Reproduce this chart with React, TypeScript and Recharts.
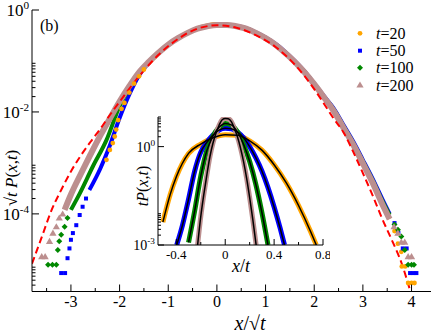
import React from 'react';
import { ComposedChart, Line, Scatter, XAxis, YAxis } from 'recharts';

const FONT = 'Liberation Serif, Times New Roman, serif';

// ---- main panel: sqrt(t) P(x,t) against x/sqrt(t) ----
const t20Line = [
  { x: -1.4, y: 9.0e-2 }, { x: -1.2, y: 0.14 }, { x: -1.0, y: 0.205 }, { x: -0.8, y: 0.28 },
  { x: -0.6, y: 0.36 }, { x: -0.4, y: 0.44 }, { x: -0.2, y: 0.5 }, { x: 0, y: 0.53 },
  { x: 0.2, y: 0.52 }, { x: 0.4, y: 0.48 }, { x: 0.6, y: 0.43 }, { x: 0.8, y: 0.355 },
  { x: 1.0, y: 0.28 }, { x: 1.2, y: 0.21 }, { x: 1.4, y: 0.145 }, { x: 1.6, y: 0.096 },
  { x: 1.8, y: 0.06 }, { x: 2.0, y: 0.035 }, { x: 2.2, y: 0.0195 }, { x: 2.4, y: 0.0105 },
  { x: 2.6, y: 4.9e-3 }, { x: 2.8, y: 2.3e-3 }, { x: 3.0, y: 9.8e-4 }, { x: 3.2, y: 4.1e-4 },
  { x: 3.4, y: 1.6e-4 }, { x: 3.55, y: 8.0e-5 },
];
const t20Pts = [
  { x: -2.27, y: 1.15e-3 }, { x: -2.2, y: 1.8e-3 }, { x: -2.14, y: 2.45e-3 }, { x: -2.1, y: 3.3e-3 },
  { x: -2.07, y: 4.5e-3 }, { x: -2.03, y: 6.9e-3 }, { x: -1.96, y: 1.15e-2 }, { x: -1.9, y: 1.5e-2 },
  { x: -1.8, y: 2.4e-2 }, { x: -1.7, y: 3.6e-2 }, { x: -1.6, y: 5.0e-2 }, { x: -1.5, y: 6.8e-2 },
  { x: 3.65, y: 4.6e-5 }, { x: 3.72, y: 2.6e-5 }, { x: 3.79, y: 1.8e-5 }, { x: 3.8, y: 9.3e-6 },
  { x: 3.87, y: 9.3e-6 }, { x: 3.93, y: 4.4e-6 }, { x: 4.0, y: 4.4e-6 }, { x: 4.06, y: 4.4e-6 },
];

const t50Line = [
  { x: -2.62, y: 2.95e-4 }, { x: -2.4, y: 7.6e-4 }, { x: -2.2, y: 2.2e-3 }, { x: -2.0, y: 7.6e-3 },
  { x: -1.8, y: 2.2e-2 }, { x: -1.6, y: 5.2e-2 }, { x: -1.4, y: 9.2e-2 }, { x: -1.2, y: 0.142 },
  { x: -1.0, y: 0.208 }, { x: -0.8, y: 0.28 }, { x: -0.6, y: 0.355 }, { x: -0.4, y: 0.43 },
  { x: -0.2, y: 0.48 }, { x: 0, y: 0.51 }, { x: 0.2, y: 0.51 }, { x: 0.4, y: 0.485 },
  { x: 0.6, y: 0.44 }, { x: 0.8, y: 0.365 }, { x: 1.0, y: 0.29 }, { x: 1.2, y: 0.218 },
  { x: 1.4, y: 0.152 }, { x: 1.6, y: 0.1 }, { x: 1.8, y: 0.063 }, { x: 2.0, y: 0.036 },
  { x: 2.2, y: 0.0205 }, { x: 2.4, y: 0.0118 }, { x: 2.6, y: 5.6e-3 }, { x: 2.8, y: 2.65e-3 },
  { x: 3.0, y: 1.15e-3 }, { x: 3.2, y: 4.9e-4 }, { x: 3.4, y: 1.95e-4 }, { x: 3.55, y: 1.0e-4 },
];
const t50Pts = [
  { x: -3.2, y: 6.9e-6 }, { x: -3.12, y: 6.9e-6 }, { x: -3.07, y: 1.35e-5 }, { x: -3.03, y: 2.1e-5 },
  { x: -3.0, y: 3.1e-5 }, { x: -2.96, y: 4.2e-5 }, { x: -2.89, y: 6.0e-5 }, { x: -2.82, y: 9.5e-5 },
  { x: -2.76, y: 1.38e-4 }, { x: -2.69, y: 2.0e-4 },
  { x: 3.65, y: 6.6e-5 }, { x: 3.73, y: 4.2e-5 }, { x: 3.82, y: 2.1e-5 }, { x: 3.9, y: 2.1e-5 },
  { x: 3.97, y: 6.9e-6 }, { x: 4.04, y: 6.9e-6 }, { x: 4.1, y: 6.9e-6 },
];

const t100Line = [
  { x: -3.0, y: 1.2e-4 }, { x: -2.82, y: 2.5e-4 }, { x: -2.55, y: 8.5e-4 }, { x: -2.27, y: 2.8e-3 },
  { x: -2.0, y: 1.3e-2 }, { x: -1.8, y: 3.0e-2 }, { x: -1.6, y: 5.8e-2 }, { x: -1.4, y: 9.5e-2 },
  { x: -1.2, y: 0.145 }, { x: -1.0, y: 0.21 }, { x: -0.8, y: 0.28 }, { x: -0.6, y: 0.355 },
  { x: -0.4, y: 0.43 }, { x: -0.2, y: 0.48 }, { x: 0, y: 0.505 }, { x: 0.2, y: 0.505 },
  { x: 0.4, y: 0.48 }, { x: 0.6, y: 0.435 }, { x: 0.8, y: 0.36 }, { x: 1.0, y: 0.285 },
  { x: 1.2, y: 0.214 }, { x: 1.4, y: 0.148 }, { x: 1.6, y: 0.098 }, { x: 1.8, y: 0.062 },
  { x: 2.0, y: 0.0355 }, { x: 2.2, y: 0.02 }, { x: 2.4, y: 0.0112 }, { x: 2.6, y: 5.3e-3 },
  { x: 2.8, y: 2.5e-3 }, { x: 3.0, y: 1.08e-3 }, { x: 3.2, y: 4.6e-4 }, { x: 3.4, y: 1.8e-4 },
  { x: 3.55, y: 9.5e-5 },
];
const t100Pts = [
  { x: -3.47, y: 1.0e-5 }, { x: -3.38, y: 1.0e-5 }, { x: -3.3, y: 1.0e-5 }, { x: -3.27, y: 1.95e-5 },
  { x: -3.24, y: 2.9e-5 }, { x: -3.2, y: 3.9e-5 }, { x: -3.13, y: 5.6e-5 }, { x: -3.07, y: 8.3e-5 },
  { x: 3.65, y: 6.2e-5 }, { x: 3.72, y: 4.9e-5 }, { x: 3.79, y: 3.6e-5 }, { x: 3.86, y: 1.95e-5 },
  { x: 3.93, y: 1.0e-5 }, { x: 4.0, y: 1.0e-5 }, { x: 4.05, y: 1.0e-5 },
];

const t200Line = [
  { x: -3.13, y: 1.2e-4 }, { x: -3.0, y: 2.4e-4 }, { x: -2.8, y: 6.0e-4 }, { x: -2.6, y: 1.45e-3 },
  { x: -2.4, y: 3.4e-3 }, { x: -2.2, y: 7.4e-3 }, { x: -2.0, y: 1.6e-2 }, { x: -1.8, y: 3.2e-2 },
  { x: -1.6, y: 6.0e-2 }, { x: -1.4, y: 9.6e-2 }, { x: -1.2, y: 0.145 }, { x: -1.0, y: 0.21 },
  { x: -0.8, y: 0.28 }, { x: -0.6, y: 0.355 }, { x: -0.4, y: 0.43 }, { x: -0.2, y: 0.48 },
  { x: 0, y: 0.51 }, { x: 0.2, y: 0.51 }, { x: 0.4, y: 0.48 }, { x: 0.6, y: 0.43 },
  { x: 0.8, y: 0.355 }, { x: 1.0, y: 0.28 }, { x: 1.2, y: 0.21 }, { x: 1.4, y: 0.145 },
  { x: 1.6, y: 0.096 }, { x: 1.8, y: 0.06 }, { x: 2.0, y: 0.035 }, { x: 2.2, y: 0.0195 },
  { x: 2.4, y: 0.0105 }, { x: 2.6, y: 4.9e-3 }, { x: 2.8, y: 2.3e-3 }, { x: 3.0, y: 9.8e-4 },
  { x: 3.2, y: 4.1e-4 }, { x: 3.4, y: 1.55e-4 }, { x: 3.55, y: 7.9e-5 },
];
const t200Pts = [
  { x: -3.6, y: 1.45e-5 }, { x: -3.53, y: 1.45e-5 }, { x: -3.44, y: 2.9e-5 }, { x: -3.37, y: 4.2e-5 },
  { x: -3.3, y: 5.6e-5 }, { x: -3.24, y: 8.3e-5 }, { x: -3.17, y: 1.0e-4 },
  { x: 3.64, y: 5.6e-5 }, { x: 3.72, y: 4.2e-5 }, { x: 3.79, y: 2.8e-5 }, { x: 3.86, y: 2.8e-5 },
  { x: 3.93, y: 1.45e-5 }, { x: 4.0, y: 1.45e-5 },
];

// dashed red curve
const gaussCurve = [
  { x: -3.8, y: 1.05e-5 }, { x: -3.6, y: 3.5e-5 }, { x: -3.4, y: 1.17e-4 }, { x: -3.2, y: 2.95e-4 },
  { x: -3.0, y: 6.8e-4 }, { x: -2.8, y: 1.38e-3 }, { x: -2.6, y: 2.57e-3 }, { x: -2.4, y: 4.6e-3 },
  { x: -2.2, y: 8.7e-3 }, { x: -2.0, y: 1.58e-2 }, { x: -1.6, y: 5.0e-2 }, { x: -1.2, y: 0.132 },
  { x: -0.8, y: 0.27 }, { x: -0.4, y: 0.43 }, { x: 0, y: 0.5 }, { x: 0.4, y: 0.45 },
  { x: 0.8, y: 0.32 }, { x: 1.2, y: 0.19 }, { x: 1.6, y: 0.085 }, { x: 2.0, y: 0.028 },
  { x: 2.2, y: 0.0145 }, { x: 2.4, y: 7.4e-3 }, { x: 2.6, y: 4.0e-3 }, { x: 2.8, y: 1.66e-3 },
  { x: 3.0, y: 6.3e-4 }, { x: 3.2, y: 2.3e-4 }, { x: 3.4, y: 7.9e-5 }, { x: 3.6, y: 3.0e-5 },
  { x: 3.8, y: 1.05e-5 }, { x: 3.96, y: 3.4e-6 },
];

// ---- inset: t P(x,t) against x/t ----
const inset20 = [
  { x: -0.51, y: 5.0e-3 }, { x: -0.45, y: 0.035 }, { x: -0.4, y: 0.12 }, { x: -0.3, y: 0.62 },
  { x: -0.2, y: 1.2 }, { x: -0.1, y: 1.86 }, { x: 0, y: 2.3 }, { x: 0.1, y: 2.24 },
  { x: 0.2, y: 1.5 }, { x: 0.3, y: 0.78 }, { x: 0.4, y: 0.28 }, { x: 0.5, y: 0.078 },
  { x: 0.6, y: 0.016 }, { x: 0.7, y: 2.5e-3 }, { x: 0.745, y: 1.0e-3 },
];
const inset50 = [
  { x: -0.397, y: 1.0e-3 }, { x: -0.35, y: 4.0e-3 }, { x: -0.3, y: 0.025 }, { x: -0.25, y: 0.18 },
  { x: -0.2, y: 0.68 }, { x: -0.15, y: 1.35 }, { x: -0.1, y: 2.24 }, { x: -0.05, y: 3.2 },
  { x: 0, y: 3.6 }, { x: 0.05, y: 3.5 }, { x: 0.1, y: 2.8 }, { x: 0.15, y: 1.86 },
  { x: 0.2, y: 1.0 }, { x: 0.25, y: 0.46 }, { x: 0.3, y: 0.18 }, { x: 0.35, y: 0.056 },
  { x: 0.4, y: 0.0145 }, { x: 0.45, y: 3.2e-3 }, { x: 0.485, y: 1.0e-3 },
];
const inset100 = [
  { x: -0.3, y: 1.2e-3 }, { x: -0.25, y: 0.011 }, { x: -0.2, y: 0.126 }, { x: -0.15, y: 0.76 },
  { x: -0.1, y: 2.1 }, { x: -0.05, y: 3.9 }, { x: 0, y: 5.1 }, { x: 0.05, y: 4.6 },
  { x: 0.1, y: 2.8 }, { x: 0.15, y: 1.17 }, { x: 0.2, y: 0.35 }, { x: 0.25, y: 0.072 },
  { x: 0.3, y: 9.8e-3 }, { x: 0.35, y: 1.0e-3 },
];
const inset200 = [
  { x: -0.226, y: 1.0e-3 }, { x: -0.2, y: 7.4e-3 }, { x: -0.175, y: 0.035 }, { x: -0.15, y: 0.14 },
  { x: -0.125, y: 0.5 }, { x: -0.1, y: 1.29 }, { x: -0.075, y: 2.6 }, { x: -0.05, y: 4.5 },
  { x: -0.025, y: 6.6 }, { x: 0, y: 7.2 }, { x: 0.025, y: 7.1 }, { x: 0.05, y: 5.8 },
  { x: 0.075, y: 3.6 }, { x: 0.1, y: 2.0 }, { x: 0.125, y: 0.91 }, { x: 0.15, y: 0.35 },
  { x: 0.175, y: 0.11 }, { x: 0.2, y: 0.028 }, { x: 0.225, y: 6.3e-3 }, { x: 0.253, y: 1.0e-3 },
];

const mainXTicks = [-3.5, -3, -2.5, -2, -1.5, -1, -0.5, 0, 0.5, 1, 1.5, 2, 2.5, 3, 3.5, 4];
const mainYTicks = [
  3e-6, 4e-6, 5e-6, 6e-6, 7e-6, 8e-6, 9e-6,
  1e-4, 2e-4, 3e-4, 4e-4, 5e-4, 6e-4, 7e-4, 8e-4, 9e-4,
  1e-2, 2e-2, 3e-2, 4e-2, 5e-2, 6e-2, 7e-2, 8e-2, 9e-2, 1,
];
const insetXTicks = [-0.4, -0.2, 0, 0.2, 0.4, 0.6, 0.8];
const insetYTicks = [
  1e-3, 2e-3, 3e-3, 4e-3, 5e-3, 6e-3, 7e-3, 8e-3, 9e-3, 1, 2, 3, 4, 5, 6, 7, 8,
];

const COLORS = { t20: '#FFA500', t50: '#0000FF', t100: '#008800', t200: '#BC8F8F' };

const isDecade = (v: number) => {
  const l = Math.log10(v);
  return Math.abs(l - Math.round(l)) < 1e-6;
};
const isMultiple = (step: number) => (v: number) => Math.abs(v / step - Math.round(v / step)) < 1e-6;

function marker(kind: string, cx: number, cy: number, key?: any) {
  if (kind === 'circle') return <circle key={key} cx={cx} cy={cy} r={2.4} fill={COLORS.t20} />;
  if (kind === 'square') return <rect key={key} x={cx - 2} y={cy - 2} width={4} height={4} fill={COLORS.t50} />;
  if (kind === 'diamond')
    return <polygon key={key} points={`${cx},${cy - 3} ${cx + 3},${cy} ${cx},${cy + 3} ${cx - 3},${cy}`} fill={COLORS.t100} />;
  return (
    <polygon key={key} points={`${cx},${cy - 3.5} ${cx + 3.6},${cy + 2.6} ${cx - 3.6},${cy + 2.6}`} fill={COLORS.t200} />
  );
}

// tick renderers: ticks point into the frame, labels only on major ticks
const xTick = (side: 'top' | 'bottom', major: (v: number) => boolean, len: number, fs: number, dy: number) =>
  (p: any) => {
    const v = p.payload.value;
    const m = major(v);
    const d = side === 'bottom' ? -1 : 1;
    return (
      <g>
        <line x1={p.x} x2={p.x} y1={p.y} y2={p.y + d * (m ? len : len / 2)} stroke="#000" strokeWidth={1} />
        {side === 'bottom' && m && (
          <text x={p.x} y={p.y + dy} textAnchor="middle" fontSize={fs} style={{ fontFamily: FONT }} fill="#000">
            {String(v)}
          </text>
        )}
      </g>
    );
  };

const yTick = (side: 'left' | 'right', major: (v: number) => boolean, len: number, fs: number) =>
  (p: any) => {
    const v = p.payload.value;
    const m = major(v);
    const d = side === 'left' ? 1 : -1;
    const exp = Math.round(Math.log10(v));
    return (
      <g>
        <line x1={p.x} x2={p.x + d * (m ? len : len / 2)} y1={p.y} y2={p.y} stroke="#000" strokeWidth={1} />
        {side === 'left' && m && (
          <text x={p.x - 3} y={p.y + fs * 0.38} textAnchor="end" fontSize={fs} style={{ fontFamily: FONT }} fill="#000">
            <tspan>10</tspan>
            <tspan dy={-fs * 0.42} fontSize={fs * 0.66}>{String(exp)}</tspan>
          </text>
        )}
      </g>
    );
  };

const mainMajorY = (v: number) => isDecade(v) && Math.round(Math.log10(v)) % 2 === 0;
const mainMajorX = isMultiple(1);
const insetMajorX = isMultiple(0.4);
const insetMajorY = (v: number) => isDecade(v) && Math.round(Math.log10(v)) % 3 === 0;

function MainChart() {
  const lineProps = { dataKey: 'y', dot: false, isAnimationActive: false, type: 'monotone' as const, activeDot: false };
  return (
    <ComposedChart width={436} height={333} margin={{ top: 10, right: 5, bottom: 0, left: 0 }}>
      <XAxis dataKey="x" type="number" domain={[-3.8, 4.4]} allowDataOverflow ticks={mainXTicks} interval={0}
        height={41.5} tickSize={0} tickMargin={0} tickLine={false} axisLine={{ stroke: '#000' }}
        tick={xTick('bottom', mainMajorX, 7, 16, 15)} />
      <XAxis xAxisId="top" orientation="top" dataKey="x" type="number" domain={[-3.8, 4.4]} allowDataOverflow
        ticks={mainXTicks} interval={0} height={0} tickSize={0} tickMargin={0} tickLine={false}
        axisLine={{ stroke: '#000' }} tick={xTick('top', mainMajorX, 7, 16, 0)} />
      <YAxis dataKey="y" type="number" scale="log" domain={[3e-6, 1]} allowDataOverflow ticks={mainYTicks}
        interval={0} width={32} tickSize={0} tickMargin={0} tickLine={false} axisLine={{ stroke: '#000' }}
        tick={yTick('left', mainMajorY, 7, 17)} />
      <YAxis yAxisId="right" orientation="right" dataKey="y" type="number" scale="log" domain={[3e-6, 1]}
        allowDataOverflow ticks={mainYTicks} interval={0} width={0} tickSize={0} tickMargin={0}
        tickLine={false} axisLine={{ stroke: '#000' }} tick={yTick('right', mainMajorY, 7, 17)} />

      <Line {...lineProps} data={t20Line} stroke={COLORS.t20} strokeWidth={4} />
      <Scatter data={t20Pts} isAnimationActive={false} shape={(p: any) => marker('circle', p.cx, p.cy)} />
      <Line {...lineProps} data={t50Line} stroke={COLORS.t50} strokeWidth={4} />
      <Scatter data={t50Pts} isAnimationActive={false} shape={(p: any) => marker('square', p.cx, p.cy)} />
      <Line {...lineProps} data={t100Line} stroke={COLORS.t100} strokeWidth={4} />
      <Scatter data={t100Pts} isAnimationActive={false} shape={(p: any) => marker('diamond', p.cx, p.cy)} />
      <Line {...lineProps} data={t200Line} stroke={COLORS.t200} strokeWidth={6} />
      <Scatter data={t200Pts} isAnimationActive={false} shape={(p: any) => marker('tri', p.cx, p.cy)} />
      <Line {...lineProps} data={gaussCurve} stroke="#FF0000" strokeWidth={2} strokeDasharray="7 4" />
    </ComposedChart>
  );
}

function InsetChart() {
  const band = { dataKey: 'y', dot: false, isAnimationActive: false, type: 'monotone' as const, activeDot: false };
  const series: [typeof inset20, string][] = [
    [inset20, COLORS.t20], [inset50, COLORS.t50], [inset100, COLORS.t100], [inset200, COLORS.t200],
  ];
  return (
    <ComposedChart width={230} height={180} margin={{ top: 17, right: 7, bottom: 0, left: 0 }}>
      <XAxis dataKey="x" type="number" domain={[-0.55, 0.8]} allowDataOverflow ticks={insetXTicks} interval={0}
        height={35} tickSize={0} tickMargin={0} tickLine={false} axisLine={{ stroke: '#000' }}
        tick={xTick('bottom', insetMajorX, 6, 13, 14)} />
      <XAxis xAxisId="top" orientation="top" dataKey="x" type="number" domain={[-0.55, 0.8]} allowDataOverflow
        ticks={insetXTicks} interval={0} height={0} tickSize={0} tickMargin={0} tickLine={false}
        axisLine={{ stroke: '#000' }} tick={xTick('top', insetMajorX, 6, 13, 0)} />
      <YAxis dataKey="y" type="number" scale="log" domain={[1e-3, 8]} allowDataOverflow ticks={insetYTicks}
        interval={0} width={58} tickSize={0} tickMargin={0} tickLine={false} axisLine={{ stroke: '#000' }}
        tick={yTick('left', insetMajorY, 6, 14)} />
      <YAxis yAxisId="right" orientation="right" dataKey="y" type="number" scale="log" domain={[1e-3, 8]}
        allowDataOverflow ticks={insetYTicks} interval={0} width={0} tickSize={0} tickMargin={0}
        tickLine={false} axisLine={{ stroke: '#000' }} tick={yTick('right', insetMajorY, 6, 14)} />
      {series.map(([d, c], i) => (
        <Line key={'b' + i} {...band} data={d} stroke={c} strokeWidth={5} />
      ))}
      {series.map(([d], i) => (
        <Line key={'k' + i} {...band} data={d} stroke="#000" strokeWidth={1.5} />
      ))}
    </ComposedChart>
  );
}

const legendRows = [
  { kind: 'circle', label: '20', y: 33.3 },
  { kind: 'square', label: '50', y: 50.7 },
  { kind: 'diamond', label: '100', y: 67.7 },
  { kind: 'tri', label: '200', y: 85 },
];

function Overlay() {
  return (
    <svg width={436} height={333} style={{ position: 'absolute', left: 0, top: 0, pointerEvents: 'none', fontFamily: FONT }}>
      <text x={40} y={31} fontSize={16}>(b)</text>
      {legendRows.map((r) => (
        <g key={r.label}>
          {marker(r.kind, 360, r.y)}
          <text x={376} y={r.y + 5.5} fontSize={16}>
            <tspan fontStyle="italic">t</tspan>={r.label}
          </text>
        </g>
      ))}
      <text x={250} y={330} fontSize={20} textAnchor="middle">
        <tspan fontStyle="italic">x</tspan>/√<tspan fontStyle="italic">t</tspan>
      </text>
      <text transform="translate(17,178) rotate(-90)" fontSize={17} textAnchor="middle">
        √<tspan fontStyle="italic">t</tspan> <tspan fontStyle="italic">P</tspan>(<tspan fontStyle="italic">x</tspan>,<tspan fontStyle="italic">t</tspan>)
      </text>
      <text x={241} y={272} fontSize={18} textAnchor="middle">
        <tspan fontStyle="italic">x</tspan>/<tspan fontStyle="italic">t</tspan>
      </text>
      <text transform="translate(148,186) rotate(-90)" fontSize={16} textAnchor="middle">
        <tspan fontStyle="italic">tP</tspan>(<tspan fontStyle="italic">x</tspan>,<tspan fontStyle="italic">t</tspan>)
      </text>
    </svg>
  );
}

export default function App() {
  return (
    <div style={{ position: 'absolute', left: 0, top: 0, width: 436, height: 333, background: '#fff', fontFamily: FONT }}>
      <div style={{ position: 'absolute', left: 0, top: 0 }}>
        <MainChart />
      </div>
      <div style={{ position: 'absolute', left: 100, top: 100 }}>
        <InsetChart />
      </div>
      <Overlay />
    </div>
  );
}
